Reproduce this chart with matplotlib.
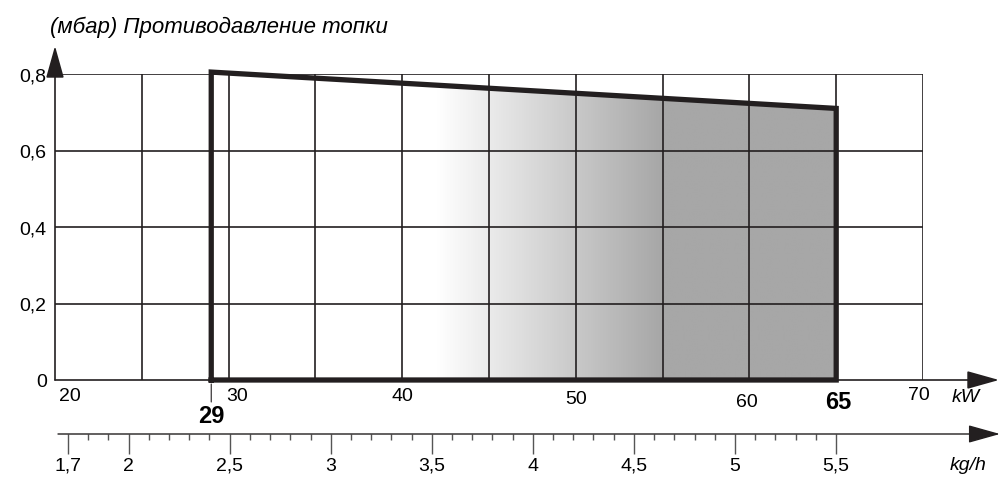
import numpy as np
import matplotlib
matplotlib.use("Agg")
import matplotlib.pyplot as plt
from matplotlib.patches import Polygon
from matplotlib.colors import LinearSegmentedColormap

plt.rcParams['font.family'] = ['Liberation Sans', 'DejaVu Sans']

# ---- data ----
title = "(мбар) Противодавление топки"
kw_ticks = [20, 30, 40, 50, 60, 70]
kw_grid = [25, 30, 35, 40, 45, 50, 55, 60, 65, 70]
p_ticks = [0, 0.2, 0.4, 0.6, 0.8]
p_labels = ["0", "0,2", "0,4", "0,6", "0,8"]
area_kw = [29, 29, 65, 65]
area_p = [0, 0.805, 0.71, 0]
kw_min, kw_max = 29, 65
kgh_major = [1.7, 2, 2.5, 3, 3.5, 4, 4.5, 5, 5.5]
kgh_labels = ["1,7", "2", "2,5", "3", "3,5", "4", "4,5", "5", "5,5"]
kgh_minor = [1.8, 1.9, 2.1, 2.2, 2.3, 2.4, 2.6, 2.7, 2.8, 2.9, 3.1, 3.2, 3.3, 3.4,
             3.6, 3.7, 3.8, 3.9, 4.1, 4.2, 4.3, 4.4, 4.6, 4.7, 4.8, 4.9,
             5.1, 5.2, 5.3, 5.4]
grad_start, grad_end = 42, 55

LC = '#231f20'
W, H = 999, 481
FS = 14

fig = plt.figure(figsize=(W / 100, H / 100), dpi=100)
ax = fig.add_axes([55 / W, (H - 381) / H, (923 - 55) / W, (381 - 75) / H])
ax.set_xlim(20, 70)
ax.set_ylim(0, 0.8)
for s in ax.spines.values():
    s.set_visible(False)
ax.set_xticks([])
ax.set_yticks(p_ticks)
ax.set_yticklabels(p_labels, fontsize=FS)
ax.tick_params(axis='y', length=0, pad=6)
ax.patch.set_visible(False)

# gradient fill clipped to the operating area
poly = Polygon(list(zip(area_kw, area_p)), closed=True, facecolor='none', edgecolor='none')
ax.add_patch(poly)
xs = np.linspace(kw_min, kw_max, 400)
t = np.clip((xs - grad_start) / (grad_end - grad_start), 0, 1)
cmap = LinearSegmentedColormap.from_list('g', ['#ffffff', '#a7a7a7'])
im = ax.imshow(t[np.newaxis, :], extent=[kw_min, kw_max, 0, max(area_p)], cmap=cmap,
               vmin=0, vmax=1, aspect='auto', origin='lower', zorder=1, interpolation='bilinear')
im.set_clip_path(poly)

# grid
for x in kw_grid:
    ax.plot([x, x], [0, 0.8], color=LC, lw=1.2, zorder=2, solid_capstyle='butt')
for y in p_ticks[1:]:
    ax.plot([20, 70], [y, y], color=LC, lw=1.2, zorder=2, solid_capstyle='butt')

# outline
ax.plot(area_kw + [area_kw[0]], area_p + [area_p[0]], color=LC, lw=3.8, zorder=4,
        solid_joinstyle='miter', clip_on=False)

# axes arrows
arrow_style = dict(arrowstyle='-|>,head_length=1.0,head_width=0.28', color=LC, lw=1.2,
                   shrinkA=0, shrinkB=0, mutation_scale=20)
ax.annotate('', xy=(0, (381 - 47) / (381 - 75)), xytext=(0, 0), xycoords='axes fraction',
            arrowprops=arrow_style, annotation_clip=False, zorder=3)
ax.annotate('', xy=((999 - 55) / (923 - 55), 0), xytext=(0, 0), xycoords='axes fraction',
            arrowprops=arrow_style, annotation_clip=False, zorder=3)

# kW labels
kw_offsets = {20: (15, -16), 30: (8, -16), 40: (0, -16), 50: (0, -19), 60: (-3, -22), 70: (-4, -15)}
for k in kw_ticks:
    dx, dy = kw_offsets[k]
    ax.annotate(str(k), xy=(k, 0), xycoords=('data', 'axes fraction'),
                xytext=(dx * 0.72, dy * 0.72), textcoords='offset points',
                ha='center', va='center', fontsize=FS, annotation_clip=False)
ax.annotate('kW', xy=(70, 0), xycoords=('data', 'axes fraction'), xytext=(43 * 0.72, -17 * 0.72),
            textcoords='offset points', ha='center', va='center', fontsize=FS, style='italic',
            annotation_clip=False)
# 29 / 65 markers
ax.annotate(str(kw_min), xy=(kw_min, 0), xycoords=('data', 'axes fraction'),
            xytext=(0, -36 * 0.72), textcoords='offset points', ha='center', va='center',
            fontsize=17, fontweight='bold', annotation_clip=False)
ax.annotate(str(kw_max), xy=(kw_max, 0), xycoords=('data', 'axes fraction'),
            xytext=(2 * 0.72, -22 * 0.72), textcoords='offset points', ha='center', va='center',
            fontsize=17, fontweight='bold', annotation_clip=False)
ax.annotate('', xy=(kw_min, -22 / 306 * 0.8), xytext=(kw_min, -4 / 306 * 0.8),
            arrowprops=dict(arrowstyle='-', color=LC, lw=0.8, shrinkA=0, shrinkB=0),
            annotation_clip=False)

# title
fig.text(50 / W, 1 - 27 / H, title, fontsize=16, style='italic', ha='left', va='center')

# kg/h axis
px_per = (836 - 68) / (5.5 - 1.7)
x0 = 1.7 - (68 - 58) / px_per
x1 = 1.7 + (1000 - 68) / px_per
ax2 = fig.add_axes([58 / W, (H - 435) / H, (1000 - 58) / W, 0.001])
ax2.set_xlim(x0, x1)
ax2.set_ylim(0, 1)
for s in ax2.spines.values():
    s.set_visible(False)
ax2.patch.set_visible(False)
ax2.set_yticks([])
ax2.set_xticks(kgh_major)
ax2.set_xticklabels(kgh_labels, fontsize=FS)
ax2.set_xticks(kgh_minor, minor=True)
ax2.tick_params(axis='x', which='major', length=14.5, width=1.0, color='#555555', pad=2)
ax2.tick_params(axis='x', which='minor', length=4, width=1.0, color='#555555')
ax2.annotate('', xy=(1, 0), xytext=(0, 0), xycoords='axes fraction',
             arrowprops=dict(arrowstyle='-|>,head_length=1.0,head_width=0.28', color=LC, lw=1.0,
                             shrinkA=0, shrinkB=0, mutation_scale=20), annotation_clip=False)
fig.text(968 / W, 1 - 466 / H, 'kg/h', fontsize=FS, style='italic', ha='center', va='center')

fig.savefig('out.png', dpi=100)
